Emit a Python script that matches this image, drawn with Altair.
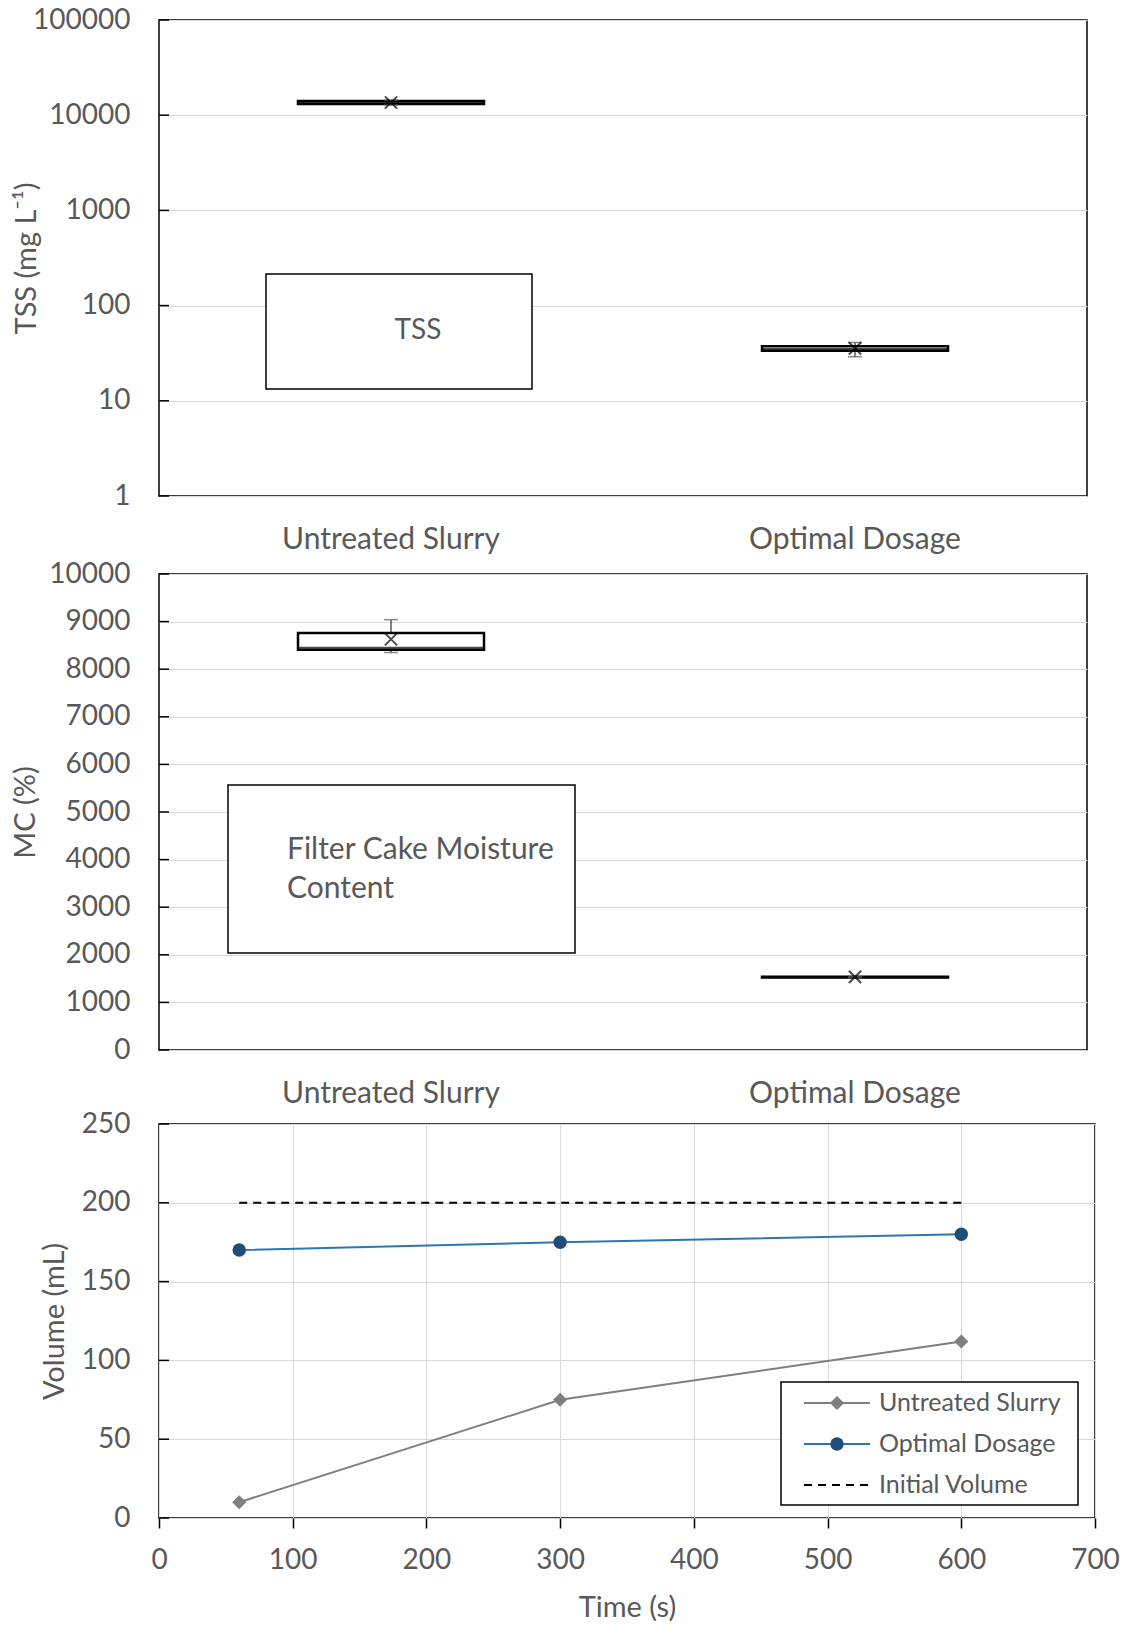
import altair as alt
import pandas as pd

FONT = "Lato"
TXT = "#595959"
GRID = "#d9d9d9"

# ---------------- data ----------------
categories = ["Untreated Slurry", "Optimal Dosage"]

tss_min = [12800, 29]
tss_q1 = [13100, 33.5]
tss_median = [13600, 35]
tss_q3 = [14100, 37.5]
tss_max = [14400, 41]
tss_mean = [13600, 35.5]

mc_min = [8350, 1520]
mc_q1 = [8410, 1525]
mc_median = [8450, 1530]
mc_q3 = [8760, 1540]
mc_max = [9040, 1545]
mc_mean = [8630, 1535]

time_s = [60, 300, 600]
untreated_vol = [10, 75, 112]
optimal_vol = [170, 175, 180]
initial_vol = [200, 200, 200]

series_names = ["Untreated Slurry", "Optimal Dosage", "Initial Volume"]

tss_ticks = [1, 10, 100, 1000, 10000, 100000]
mc_ticks = [0, 1000, 2000, 3000, 4000, 5000, 6000, 7000, 8000, 9000, 10000]
vol_ticks = [0, 50, 100, 150, 200, 250]
time_ticks = [0, 100, 200, 300, 400, 500, 600, 700]

# ---------------- sizes ----------------
W12, H12 = 928, 476
W3, H3 = 936, 394
BOX_W = 186
X_SHAPE = "M-1,-1L1,1M-1,1L1,-1"
LBL = 28
CAT_LBL = 30


def box_panel(mins, q1s, meds, q3s, maxs, means, y_scale, y_ticks, y_title,
              title_x, title_size, note):
    df = pd.DataFrame({"cat": categories, "min": mins, "q1": q1s, "med": meds,
                       "q3": q3s, "max": maxs, "mean": means})
    base = alt.Chart(df)
    x_enc = alt.X("cat:N", sort=categories,
                  scale=alt.Scale(paddingInner=0, paddingOuter=0),
                  axis=alt.Axis(title=None, labelAngle=0, ticks=False, domain=False,
                                grid=False, labelPadding=28, labelFontSize=CAT_LBL,
                                labelLimit=600, labelFont=FONT, labelColor=TXT))
    y_axis = alt.Axis(values=y_ticks, format="d", title=y_title, grid=True,
                      gridColor=GRID, gridWidth=1, ticks=False, domain=False,
                      labelPadding=29, labelFontSize=LBL, labelFont=FONT,
                      labelColor=TXT, titleFont=FONT, titleFontSize=title_size,
                      titleColor=TXT, titleFontWeight="normal",
                      titleX=title_x, titleBaseline="middle")
    whisk_lo = base.mark_rule(color="#595959", strokeWidth=1.5).encode(
        x=x_enc, y=alt.Y("min:Q", scale=y_scale, axis=y_axis), y2="q1:Q")
    whisk_hi = base.mark_rule(color="#595959", strokeWidth=1.5).encode(
        x=x_enc, y=alt.Y("q3:Q", scale=y_scale), y2="max:Q")
    cap_lo = base.mark_tick(color="#595959", size=14, thickness=1.5).encode(
        x=x_enc, y=alt.Y("min:Q", scale=y_scale))
    cap_hi = base.mark_tick(color="#595959", size=14, thickness=1.5).encode(
        x=x_enc, y=alt.Y("max:Q", scale=y_scale))
    box = base.mark_bar(size=BOX_W, fill="white", stroke="black",
                        strokeWidth=2.5).encode(
        x=x_enc, y=alt.Y("q1:Q", scale=y_scale), y2="q3:Q")
    med = base.mark_tick(size=BOX_W, thickness=2, color="black").encode(
        x=x_enc, y=alt.Y("med:Q", scale=y_scale))
    mean = base.mark_point(shape=X_SHAPE, size=150, stroke="black",
                           strokeWidth=2, filled=False).encode(
        x=x_enc, y=alt.Y("mean:Q", scale=y_scale))
    tick_df = pd.DataFrame({"v": y_ticks})
    inner_ticks = alt.Chart(tick_df).mark_rule(color="black", strokeWidth=1.5).encode(
        x=alt.value(0), x2=alt.value(10), y=alt.Y("v:Q", scale=y_scale))
    return alt.layer(whisk_lo, whisk_hi, box, med, cap_lo, cap_hi, mean,
                     inner_ticks, *note).properties(width=W12, height=H12)


# ---------- panel 1: TSS ----------
note1_df = pd.DataFrame({"label": ["TSS"]})
note1_rect = alt.Chart(note1_df).mark_rect(fill="white", stroke="black",
                                           strokeWidth=1.5).encode(
    x=alt.value(107), x2=alt.value(373), y=alt.value(254), y2=alt.value(369))
note1_text = alt.Chart(note1_df).mark_text(font=FONT, fontSize=LBL, color=TXT,
                                           align="center", baseline="middle").encode(
    x=alt.value(259), y=alt.value(311), text="label:N")

p1 = box_panel(tss_min, tss_q1, tss_median, tss_q3, tss_max, tss_mean,
               alt.Scale(type="log", domain=[1, 100000]), tss_ticks,
               "TSS (mg L⁻¹)", -133, 29, [note1_rect, note1_text])

# ---------- panel 2: MC ----------
note2_df = pd.DataFrame({"label": ["Filter Cake Moisture Content"]})
note2_rect = alt.Chart(note2_df).mark_rect(fill="white", stroke="black",
                                           strokeWidth=1.5).encode(
    x=alt.value(69), x2=alt.value(416), y=alt.value(211), y2=alt.value(379))
note2_text = alt.Chart(note2_df).mark_text(
    font=FONT, fontSize=CAT_LBL, color=TXT, align="left", baseline="middle",
    lineHeight=39, text=["Filter Cake Moisture", "Content"]).encode(
    x=alt.value(128), y=alt.value(276))

p2 = box_panel(mc_min, mc_q1, mc_median, mc_q3, mc_max, mc_mean,
               alt.Scale(domain=[0, 10000]), mc_ticks,
               "MC (%)", -134, 29, [note2_rect, note2_text])

# ---------- panel 3: volume vs time ----------
x3_scale = alt.Scale(domain=[0, 700], nice=False)
y3_scale = alt.Scale(domain=[0, 250], nice=False)
x3_axis = alt.Axis(values=time_ticks, title="Time (s)", grid=True, gridColor=GRID,
                   gridWidth=1, ticks=True, tickSize=10, tickColor="black",
                   tickWidth=1.5, domain=False, labelPadding=18, labelFontSize=LBL,
                   labelFlush=False, labelFont=FONT, labelColor=TXT,
                   titleFont=FONT, titleFontSize=29, titleColor=TXT,
                   titleFontWeight="normal", titlePadding=19)
y3_axis = alt.Axis(values=vol_ticks, title="Volume (mL)", grid=True, gridColor=GRID,
                   gridWidth=1, ticks=False, domain=False, labelPadding=29,
                   labelFontSize=LBL, labelFont=FONT, labelColor=TXT, titleFont=FONT,
                   titleFontSize=29, titleColor=TXT, titleFontWeight="normal",
                   titleX=-105, titleBaseline="middle")

vol_df = pd.DataFrame({"t": time_s, "untreated": untreated_vol,
                       "optimal": optimal_vol, "initial": initial_vol})
vbase = alt.Chart(vol_df)

initial_line = vbase.mark_line(color="black", strokeWidth=2, strokeDash=[8, 6]).encode(
    x=alt.X("t:Q", scale=x3_scale, axis=x3_axis),
    y=alt.Y("initial:Q", scale=y3_scale, axis=y3_axis))
untreated_line = vbase.mark_line(color="#7f7f7f", strokeWidth=2).encode(
    x=alt.X("t:Q", scale=x3_scale), y=alt.Y("untreated:Q", scale=y3_scale))
untreated_pts = vbase.mark_point(shape="diamond", size=200, filled=True,
                                 color="#7f7f7f", opacity=1).encode(
    x=alt.X("t:Q", scale=x3_scale), y=alt.Y("untreated:Q", scale=y3_scale))
optimal_line = vbase.mark_line(color="#2e75b6", strokeWidth=2).encode(
    x=alt.X("t:Q", scale=x3_scale), y=alt.Y("optimal:Q", scale=y3_scale))
optimal_pts = vbase.mark_point(shape="circle", size=180, filled=True,
                               color="#1f4e79", opacity=1).encode(
    x=alt.X("t:Q", scale=x3_scale), y=alt.Y("optimal:Q", scale=y3_scale))

vtick_df = pd.DataFrame({"v": vol_ticks})
v_inner_ticks = alt.Chart(vtick_df).mark_rule(color="black", strokeWidth=1.5).encode(
    x=alt.value(0), x2=alt.value(10), y=alt.Y("v:Q", scale=y3_scale))

# custom legend (Excel-style line + marker samples)
leg_df = pd.DataFrame({"name": series_names})
legend_layers = [
    alt.Chart(leg_df.head(1)).mark_rect(fill="white", stroke="black",
                                        strokeWidth=1.5).encode(
        x=alt.value(622), x2=alt.value(919), y=alt.value(258), y2=alt.value(381))
]
leg_styles = [
    dict(color="#7f7f7f", dash=None, shape="diamond", mcolor="#7f7f7f", msize=200),
    dict(color="#2e75b6", dash=None, shape="circle", mcolor="#1f4e79", msize=180),
    dict(color="black", dash=[8, 6], shape=None, mcolor=None, msize=0),
]
leg_rows = [279, 320, 361]
for i, (name, st) in enumerate(zip(series_names, leg_styles)):
    row_df = leg_df.iloc[[i]]
    yv = leg_rows[i]
    rule_kw = dict(color=st["color"], strokeWidth=2)
    if st["dash"]:
        rule_kw["strokeDash"] = st["dash"]
    legend_layers.append(alt.Chart(row_df).mark_rule(**rule_kw).encode(
        x=alt.value(645), x2=alt.value(711), y=alt.value(yv)))
    if st["shape"]:
        legend_layers.append(alt.Chart(row_df).mark_point(
            shape=st["shape"], size=st["msize"], filled=True, color=st["mcolor"],
            opacity=1).encode(x=alt.value(678), y=alt.value(yv)))
    legend_layers.append(alt.Chart(row_df).mark_text(
        font=FONT, fontSize=25, color=TXT, align="left", baseline="middle").encode(
        x=alt.value(720), y=alt.value(yv), text="name:N"))

p3 = alt.layer(initial_line, untreated_line, optimal_line, untreated_pts,
               optimal_pts, v_inner_ticks, *legend_layers).properties(
    width=W3, height=H3)

top = alt.vconcat(p1, p2, spacing=4)
chart = alt.vconcat(top, p3, spacing=0).configure_view(
    stroke="black", strokeWidth=1.5
).properties(padding={"left": 10, "top": 5, "right": 5, "bottom": 5})

chart.save("out.html", embed_options={"renderer": "svg", "actions": False})
